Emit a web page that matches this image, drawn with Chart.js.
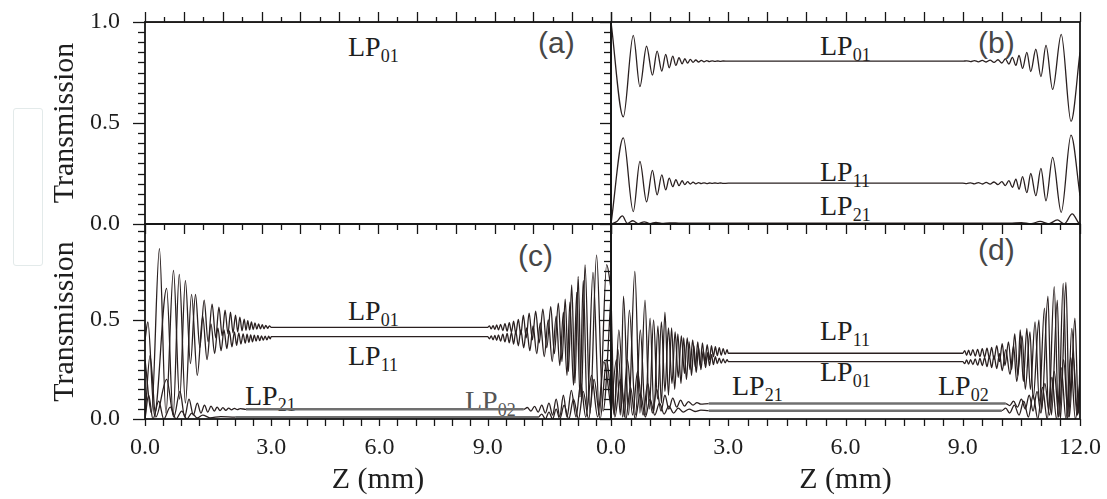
<!DOCTYPE html>
<html>
<head>
<meta charset="utf-8">
<script src="https://cdn.jsdelivr.net/npm/chart.js@4.4.1/dist/chart.umd.min.js"></script>
<style>
  html, body { margin: 0; padding: 0; background: #fff; }
  #stage { position: relative; width: 1107px; height: 499px; overflow: hidden; }
  canvas { position: absolute; left: 0; top: 0; z-index: 2; }
  .lbl { position: absolute; z-index: 1; font: 28px/28px 'Liberation Serif', 'Times New Roman', serif; color: #1e1e1e; white-space: nowrap; }
  .lbl sub { font-size: 18px; line-height: 0; vertical-align: baseline; position: relative; top: 6px; }
  .tag { position: absolute; z-index: 1; font: 30px/30px 'Liberation Sans', Arial, sans-serif; color: #474747; }
  .ghost { position: absolute; left: 13px; top: 108px; width: 28px; height: 156px; border: 1.5px solid #e3eaea; border-radius: 3px; }
</style>
</head>
<body>
<div id="stage">
  <div class="ghost"></div>

  <div class="lbl" style="left:348px;top:33px">LP<sub>01</sub></div>
  <div class="tag" style="left:538px;top:28px">(a)</div>

  <div class="lbl" style="left:820px;top:32px">LP<sub>01</sub></div>
  <div class="lbl" style="left:820px;top:158px">LP<sub>11</sub></div>
  <div class="lbl" style="left:820px;top:192px">LP<sub>21</sub></div>
  <div class="tag" style="left:978px;top:28px">(b)</div>

  <div class="lbl" style="left:348px;top:297px">LP<sub>01</sub></div>
  <div class="lbl" style="left:348px;top:342px">LP<sub>11</sub></div>
  <div class="lbl" style="left:245px;top:382px">LP<sub>21</sub></div>
  <div class="lbl" style="left:465px;top:387px;color:#555">LP<sub>02</sub></div>
  <div class="tag" style="left:518px;top:241px">(c)</div>

  <div class="lbl" style="left:820px;top:317px">LP<sub>11</sub></div>
  <div class="lbl" style="left:820px;top:358px">LP<sub>01</sub></div>
  <div class="lbl" style="left:732px;top:372px">LP<sub>21</sub></div>
  <div class="lbl" style="left:938px;top:372px">LP<sub>02</sub></div>
  <div class="tag" style="left:978px;top:235px">(d)</div>

  <canvas id="pa" width="1107" height="499"></canvas>
  <canvas id="pb" width="1107" height="499"></canvas>
  <canvas id="pc" width="1107" height="499"></canvas>
  <canvas id="pd" width="1107" height="499"></canvas>
</div>
<script>
/* ── data: [z (mm), transmission] ───────────────────────────────── */

// (a) launched LP01 only
const a01 = [[0, 1.0], [12, 1.0]];

// (b)
const b01 = [[0.0,1.0],[0.315,0.53],[0.57,0.934],[0.74,0.68],[0.91,0.88],[1.06,0.737],[1.18,0.856],[1.30,0.757],[1.40,0.84],[1.49,0.773],[1.58,0.831],[1.66,0.785],[1.74,0.823],[1.82,0.793],[1.89,0.818],[1.96,0.797],[2.03,0.815],[2.10,0.80],[2.17,0.812],[2.24,0.802],[2.31,0.81],[2.38,0.803],[2.45,0.809],[2.52,0.804],[2.59,0.808],[2.66,0.805],[2.73,0.807],[2.80,0.805],[2.87,0.807],[3.0,0.806],
  [9.0,0.806],[9.1,0.808],[9.2,0.804],[9.3,0.809],[9.4,0.803],[9.5,0.81],[9.6,0.802],[9.7,0.811],[9.8,0.80],[9.9,0.813],[10.0,0.797],[10.09,0.817],[10.18,0.792],[10.27,0.825],[10.36,0.785],[10.44,0.835],[10.53,0.77],[10.64,0.85],[10.74,0.755],[10.87,0.865],[11.0,0.73],[11.13,0.884],[11.30,0.666],[11.52,0.939],[11.77,0.508],[12.0,0.85]];
const b11 = [[0.0,0.0],[0.315,0.426],[0.57,0.061],[0.74,0.31],[0.91,0.11],[1.06,0.265],[1.18,0.144],[1.30,0.243],[1.40,0.169],[1.49,0.227],[1.58,0.185],[1.66,0.219],[1.74,0.19],[1.82,0.214],[1.89,0.195],[1.96,0.21],[2.03,0.198],[2.10,0.207],[2.17,0.199],[2.24,0.205],[2.31,0.20],[2.38,0.204],[2.45,0.20],[2.52,0.203],[2.59,0.201],[2.66,0.203],[2.73,0.201],[2.80,0.203],[2.87,0.201],[3.0,0.202],
  [9.0,0.202],[9.1,0.20],[9.2,0.204],[9.3,0.199],[9.4,0.205],[9.5,0.198],[9.6,0.206],[9.7,0.197],[9.8,0.208],[9.9,0.195],[10.0,0.21],[10.09,0.19],[10.18,0.215],[10.27,0.182],[10.36,0.222],[10.44,0.172],[10.53,0.235],[10.64,0.155],[10.74,0.25],[10.87,0.14],[11.0,0.275],[11.13,0.115],[11.30,0.33],[11.52,0.058],[11.77,0.44],[12.0,0.14]];
const b21 = [[0.0,0.0],[0.15,0.012],[0.29,0.04],[0.42,0.003],[0.56,0.016],[0.70,0.002],[0.85,0.011],[1.0,0.002],[1.15,0.008],[1.3,0.003],[1.5,0.006],[1.8,0.004],[10.2,0.004],[10.5,0.007],[10.75,0.002],[10.98,0.013],[11.2,0.001],[11.42,0.02],[11.6,0.001],[11.8,0.05],[11.97,0.004],[12.0,0.0]];

// (c)  (this panel's curves sit on a slightly shifted z axis)
const c01 = [[-0.50,0.30],[-0.32,0.03],[-0.10,0.86],[0.08,0.03],[0.29,0.75],[0.46,0.10],[0.62,0.70],[0.76,0.28],[0.90,0.63],[1.02,0.36],[1.14,0.60],[1.25,0.39],[1.36,0.58],[1.46,0.41],[1.55,0.565],[1.64,0.42],[1.72,0.55],[1.80,0.43],[1.87,0.54],[1.94,0.435],[2.01,0.525],[2.07,0.44],[2.13,0.515],[2.19,0.445],[2.25,0.505],[2.30,0.448],[2.35,0.497],[2.40,0.45],[2.45,0.49],[2.50,0.452],[2.55,0.485],[2.60,0.454],[2.65,0.48],[2.70,0.455],[2.75,0.476],[2.80,0.456],[2.85,0.473],[2.90,0.458],[2.95,0.47],[3.0,0.463],
  [9.0,0.463],[9.05,0.47],[9.1,0.455],[9.15,0.472],[9.2,0.453],[9.25,0.475],[9.3,0.45],[9.36,0.478],[9.42,0.447],[9.48,0.482],[9.54,0.443],[9.6,0.487],[9.66,0.438],[9.72,0.494],[9.78,0.432],[9.85,0.503],[9.92,0.425],[9.99,0.525],[10.07,0.41],[10.15,0.535],[10.24,0.40],[10.33,0.545],[10.43,0.385],[10.53,0.555],[10.64,0.36],[10.75,0.567],[10.85,0.33],[10.96,0.585],[11.06,0.29],[11.15,0.606],[11.24,0.24],[11.33,0.677],[11.42,0.18],[11.51,0.72],[11.60,0.10],[11.70,0.778],[11.84,0.03],[12.02,0.828],[12.2,0.04],[12.42,0.62]];
const c11 = [[-0.50,0.40],[-0.42,0.49],[-0.24,0.02],[0.10,0.66],[0.28,0.02],[0.45,0.73],[0.62,0.08],[0.79,0.63],[0.95,0.22],[1.10,0.52],[1.22,0.30],[1.33,0.48],[1.43,0.33],[1.52,0.46],[1.61,0.345],[1.69,0.45],[1.77,0.355],[1.84,0.445],[1.91,0.365],[1.98,0.44],[2.04,0.372],[2.10,0.435],[2.16,0.378],[2.22,0.43],[2.28,0.383],[2.33,0.428],[2.38,0.387],[2.43,0.425],[2.48,0.39],[2.53,0.423],[2.58,0.393],[2.63,0.422],[2.68,0.396],[2.73,0.42],[2.78,0.398],[2.83,0.419],[2.88,0.40],[2.93,0.418],[2.97,0.405],[3.0,0.416],
  [9.0,0.416],[9.05,0.405],[9.1,0.42],[9.15,0.40],[9.2,0.422],[9.25,0.397],[9.3,0.425],[9.36,0.393],[9.42,0.428],[9.48,0.39],[9.54,0.432],[9.6,0.385],[9.66,0.437],[9.72,0.378],[9.78,0.443],[9.85,0.37],[9.92,0.45],[10.0,0.36],[10.08,0.46],[10.17,0.345],[10.26,0.47],[10.36,0.33],[10.46,0.485],[10.57,0.315],[10.68,0.50],[10.79,0.29],[10.90,0.52],[11.0,0.27],[11.1,0.54],[11.2,0.22],[11.28,0.59],[11.38,0.17],[11.47,0.64],[11.56,0.11],[11.65,0.70],[11.76,0.05],[11.92,0.74],[12.1,0.02],[12.3,0.78],[12.42,0.66]];
const c21 = [[-0.50,0.0],[-0.36,0.32],[-0.20,0.01],[0.10,0.20],[0.30,0.01],[0.47,0.14],[0.60,0.01],[0.72,0.10],[0.84,0.02],[0.95,0.08],[1.05,0.03],[1.15,0.07],[1.24,0.035],[1.33,0.065],[1.42,0.04],[1.50,0.06],[1.58,0.042],[1.66,0.057],[1.74,0.044],[1.82,0.055],[1.90,0.046],[1.98,0.054],[2.06,0.047],[2.14,0.052],[2.3,0.049],[10.0,0.049],
  [10.1,0.058],[10.2,0.04],[10.3,0.064],[10.4,0.035],[10.5,0.07],[10.6,0.03],[10.7,0.08],[10.8,0.02],[10.9,0.10],[11.0,0.012],[11.1,0.12],[11.2,0.01],[11.32,0.145],[11.45,0.01],[11.58,0.18],[11.72,0.01],[11.88,0.22],[12.05,0.01],[12.22,0.29],[12.42,0.05]];
const c02 = [[-0.50,0.0],[-0.40,0.12],[-0.28,0.0],[-0.12,0.09],[0.02,0.0],[0.2,0.06],[0.36,0.0],[0.52,0.04],[0.66,0.0],[0.8,0.03],[0.95,0.005],[1.1,0.02],[1.3,0.006],[1.6,0.012],[2.0,0.009],[10.4,0.009],
  [10.5,0.025],[10.6,0.0],[10.7,0.035],[10.8,0.0],[10.9,0.05],[11.0,0.0],[11.12,0.07],[11.25,0.0],[11.38,0.1],[11.52,0.0],[11.65,0.14],[11.8,0.0],[11.95,0.2],[12.12,0.0],[12.3,0.3],[12.42,0.1]];

// (d)
const d11 = [[0.0,0.02],[0.14,0.30],[0.24,0.02],[0.32,0.62],[0.45,0.02],[0.61,0.745],[0.74,0.03],[0.87,0.60],[0.98,0.05],[1.09,0.50],[1.19,0.10],[1.29,0.49],[1.38,0.14],[1.47,0.46],[1.56,0.18],[1.64,0.44],[1.72,0.21],[1.80,0.42],[1.88,0.23],[1.95,0.41],[2.02,0.25],[2.09,0.40],[2.16,0.26],[2.22,0.39],[2.28,0.27],[2.34,0.385],[2.40,0.28],[2.46,0.375],[2.52,0.30],[2.57,0.37],[2.62,0.315],[2.67,0.365],[2.72,0.32],[2.77,0.36],[2.82,0.322],[2.87,0.355],[2.92,0.325],[2.97,0.35],[3.0,0.332],
  [9.0,0.332],[9.05,0.345],[9.1,0.322],[9.15,0.348],[9.2,0.32],[9.26,0.35],[9.32,0.318],[9.38,0.352],[9.44,0.315],[9.5,0.355],[9.56,0.312],[9.62,0.358],[9.68,0.308],[9.74,0.362],[9.80,0.30],[9.87,0.37],[9.94,0.29],[10.01,0.38],[10.08,0.27],[10.17,0.39],[10.25,0.25],[10.33,0.43],[10.41,0.22],[10.47,0.45],[10.55,0.19],[10.64,0.458],[10.73,0.15],[10.85,0.49],[10.96,0.09],[11.09,0.56],[11.2,0.04],[11.34,0.668],[11.45,0.01],[11.57,0.685],[11.68,0.0],[11.79,0.458],[11.92,0.02],[12.0,0.2]];
const d01 = [[0.0,0.62],[0.09,0.03],[0.20,0.45],[0.35,0.01],[0.47,0.55],[0.63,0.02],[0.75,0.45],[0.88,0.02],[1.00,0.51],[1.10,0.04],[1.20,0.47],[1.29,0.08],[1.38,0.54],[1.47,0.12],[1.55,0.46],[1.63,0.15],[1.71,0.43],[1.79,0.18],[1.86,0.41],[1.93,0.20],[2.00,0.39],[2.06,0.22],[2.12,0.37],[2.18,0.235],[2.24,0.36],[2.30,0.25],[2.36,0.345],[2.42,0.26],[2.47,0.335],[2.52,0.27],[2.57,0.325],[2.62,0.275],[2.67,0.315],[2.72,0.28],[2.77,0.308],[2.82,0.282],[2.87,0.303],[2.92,0.284],[2.97,0.30],[3.0,0.29],
  [9.0,0.29],[9.05,0.28],[9.1,0.298],[9.15,0.277],[9.2,0.30],[9.26,0.275],[9.32,0.303],[9.38,0.272],[9.44,0.306],[9.5,0.27],[9.56,0.31],[9.62,0.265],[9.68,0.315],[9.74,0.26],[9.80,0.32],[9.87,0.255],[9.94,0.33],[10.01,0.245],[10.1,0.35],[10.21,0.225],[10.3,0.37],[10.38,0.19],[10.52,0.42],[10.6,0.15],[10.72,0.44],[10.8,0.10],[10.95,0.50],[11.02,0.05],[11.18,0.62],[11.27,0.02],[11.42,0.60],[11.5,0.0],[11.64,0.69],[11.73,0.01],[11.87,0.51],[11.96,0.03],[12.0,0.3]];
const d21 = [[0.0,0.24],[0.08,0.02],[0.18,0.35],[0.30,0.01],[0.42,0.30],[0.55,0.02],[0.68,0.24],[0.82,0.02],[0.94,0.18],[1.06,0.03],[1.17,0.15],[1.28,0.04],[1.38,0.12],[1.48,0.05],[1.58,0.105],[1.68,0.06],[1.78,0.095],[1.88,0.065],[1.98,0.088],[2.1,0.07],[2.2,0.083],[2.3,0.075],[2.5,0.078],[10.1,0.078],
  [10.2,0.068],[10.3,0.09],[10.4,0.06],[10.5,0.10],[10.6,0.05],[10.7,0.12],[10.8,0.04],[10.9,0.14],[11.0,0.03],[11.1,0.18],[11.22,0.02],[11.34,0.24],[11.46,0.01],[11.58,0.30],[11.7,0.01],[11.82,0.33],[11.94,0.02],[12.0,0.15]];
const d02 = [[0.0,0.32],[0.1,0.01],[0.24,0.2],[0.38,0.0],[0.5,0.16],[0.62,0.0],[0.75,0.13],[0.88,0.01],[1.0,0.10],[1.12,0.02],[1.24,0.08],[1.36,0.025],[1.48,0.065],[1.6,0.03],[1.72,0.055],[1.85,0.035],[2.0,0.05],[2.15,0.038],[2.3,0.045],[2.5,0.042],[10.0,0.042],
  [10.1,0.055],[10.2,0.03],[10.32,0.07],[10.44,0.02],[10.56,0.09],[10.68,0.01],[10.8,0.12],[10.92,0.0],[11.04,0.16],[11.16,0.0],[11.28,0.21],[11.4,0.0],[11.52,0.26],[11.64,0.0],[11.76,0.31],[11.88,0.0],[12.0,0.18]];

/* ── tick labels ─────────────────────────────────────────────────── */
const yLabelsTop = [0, 0.5, 1.0];
const yLabelsBottom = [0, 0.5];
const xLabelsC = [-0.5, 3, 6, 9];       // leftmost one is printed as 0.0 in the figure
const xLabelsD = [0, 3, 6, 9, 12];

/* ── tick marks (frame decoration) ───────────────────────────────── */
const halfMm = Array.from({ length: 25 }, (_, i) => i * 0.5);
const wholeMm = halfMm.filter(v => Number.isInteger(v));
const halfOnly = halfMm.filter(v => !Number.isInteger(v));
const yFine = Array.from({ length: 21 }, (_, i) => +(i * 0.05).toFixed(2));
const yFineMinor = yFine.filter(v => v !== 0 && v !== 0.5 && v !== 1);
const cBottom = Array.from({ length: 26 }, (_, i) => -0.5 + i * 0.5);

const W = 1107, H = 499;
const SERIF = "'Liberation Serif', 'Times New Roman', serif";
const INK = '#2a2020';

/* draws the box round each panel plus its in/out tick marks */
function makeFrame(marks) {
  return {
    id: 'frame',
    afterDraw(chart) {
      const ctx = chart.ctx;
      const a = chart.chartArea;
      const xs = chart.scales.x, ys = chart.scales.y;
      ctx.save();
      ctx.strokeStyle = '#161616';
      ctx.lineWidth = 1.3;
      for (const m of marks) {
        for (const v of m.values) {
          ctx.beginPath();
          if (m.side === 'left') {
            const p = Math.round(ys.getPixelForValue(v)) + 0.5;
            ctx.moveTo(a.left, p); ctx.lineTo(a.left - m.len, p);
          } else if (m.side === 'top') {
            const p = Math.round(xs.getPixelForValue(v)) + 0.5;
            ctx.moveTo(p, a.top); ctx.lineTo(p, a.top - m.len);
          } else {
            const p = Math.round(xs.getPixelForValue(v)) + 0.5;
            ctx.moveTo(p, a.bottom); ctx.lineTo(p, a.bottom + m.len);
          }
          ctx.stroke();
        }
      }
      ctx.lineWidth = 1.8;
      ctx.strokeRect(a.left, a.top, a.right - a.left, a.bottom - a.top);
      ctx.restore();
    }
  };
}

// long flat stretches of the weak modes show up as a grey hatched band
const flat = c => c.p1.parsed.x - c.p0.parsed.x > 0.3 && c.p0.parsed.y === c.p1.parsed.y;

function line(pts, minor, color) {
  return {
    data: pts.map(p => ({ x: p[0], y: p[1] })),
    borderColor: color || INK,
    borderWidth: 1.3,
    pointRadius: 0,
    cubicInterpolationMode: 'monotone',
    segment: minor ? {
      borderColor: c => flat(c) ? '#707070' : undefined,
      borderWidth: c => flat(c) ? 2.4 : undefined
    } : undefined
  };
}

function panel(id, box, xr, yMax, sets, cfg) {
  const leftW = cfg.yLabels ? box.left - 47 : 0;
  const bottomH = cfg.xLabels ? 79 : 0;
  new Chart(document.getElementById(id), {
    type: 'line',
    data: { datasets: sets },
    options: {
      responsive: false,
      animation: false,
      events: [],
      layout: { autoPadding: false, padding: { left: box.left - leftW, top: box.top, right: W - box.right, bottom: H - box.bottom - bottomH } },
      plugins: { legend: { display: false }, tooltip: { enabled: false } },
      scales: {
        x: {
          type: 'linear', min: xr[0], max: xr[1],
          grid: { display: false, drawTicks: false, tickLength: 0 },
          border: { display: false },
          ticks: {
            display: !!cfg.xLabels, padding: 14, color: '#1e1e1e', maxRotation: 0, autoSkip: false,
            font: { family: SERIF, size: 24 },
            callback: v => (v === -0.5 ? '0.0' : v.toFixed(1))
          },
          afterBuildTicks: s => { if (cfg.xLabels) s.ticks = cfg.xLabels.map(v => ({ value: v })); },
          afterFit: s => { s.height = bottomH; s.paddingLeft = 0; s.paddingRight = 0; },
          title: { display: !!cfg.xLabels, text: 'Z (mm)', color: '#1e1e1e', padding: 0, font: { family: SERIF, size: 30 } }
        },
        y: {
          type: 'linear', min: 0, max: yMax,
          grid: { display: false, drawTicks: false, tickLength: 0 },
          border: { display: false },
          ticks: {
            display: !!cfg.yLabels, padding: 25, color: '#1e1e1e',
            font: { family: SERIF, size: 24 },
            callback: v => v.toFixed(1)
          },
          afterBuildTicks: s => { if (cfg.yLabels) s.ticks = cfg.yLabels.map(v => ({ value: v })); },
          afterFit: s => { s.width = leftW; s.paddingTop = 0; s.paddingBottom = 0; },
          title: { display: !!cfg.yLabels, text: 'Transmission', color: '#1e1e1e', padding: 0, font: { family: SERIF, size: 30 } }
        }
      }
    },
    plugins: [makeFrame(cfg.marks)]
  });
}

const topMarks = (leftMajor, leftMinor) => [
  { side: 'left', values: yLabelsTop, len: leftMajor },
  { side: 'left', values: yFineMinor, len: leftMinor },
  { side: 'top', values: wholeMm, len: 10 },
  { side: 'top', values: halfOnly, len: 5 },
  { side: 'bottom', values: wholeMm, len: 10 },
  { side: 'bottom', values: halfOnly, len: 6 }
];

panel('pa', { left: 145, right: 611, top: 22, bottom: 224 }, [0, 12], 1.0,
  [line(a01, false, '#5a2a22')],
  { yLabels: yLabelsTop, marks: topMarks(12, 7) });

panel('pb', { left: 611, right: 1080, top: 22, bottom: 224 }, [0, 12], 1.0,
  [line(b21), line(b11), line(b01)],
  { marks: topMarks(11, 7) });

panel('pc', { left: 145, right: 611, top: 224, bottom: 419 }, [-0.5, 12.42], 0.985,
  [line(c02, true), line(c21, true), line(c11), line(c01)],
  { yLabels: yLabelsBottom, xLabels: xLabelsC, marks: [
    { side: 'left', values: yLabelsBottom, len: 12 },
    { side: 'left', values: yFineMinor.filter(v => v < 0.98), len: 7 },
    { side: 'bottom', values: cBottom, len: 7 }
  ] });

panel('pd', { left: 611, right: 1080, top: 224, bottom: 419 }, [0, 12], 0.985,
  [line(d02, true), line(d21, true), line(d01), line(d11)],
  { xLabels: xLabelsD, marks: [
    { side: 'left', values: yLabelsBottom, len: 11 },
    { side: 'left', values: yFineMinor.filter(v => v < 0.98), len: 7 },
    { side: 'bottom', values: halfMm, len: 7 }
  ] });
</script>
</body>
</html>
